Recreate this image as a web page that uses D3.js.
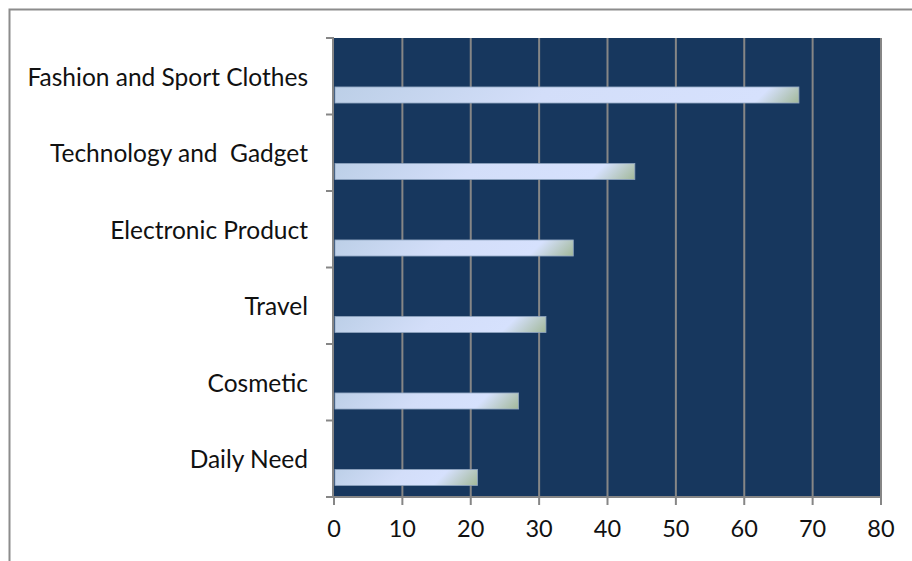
<!DOCTYPE html>
<html>
<head>
<meta charset="utf-8">
<script src="https://cdn.jsdelivr.net/npm/d3@7"></script>
<style>
  body { margin: 0; background: #fff; }
  svg { display: block; }
  text { font-family: Lato, "Open Sans", sans-serif; fill: #111; }
</style>
</head>
<body>
<svg id="svg"></svg>
<script>
var categories = ["Fashion and Sport Clothes", "Technology and  Gadget", "Electronic Product",
                  "Travel", "Cosmetic", "Daily Need"];
var values = [68, 44, 35, 31, 27, 21];
var ticks = [0, 10, 20, 30, 40, 50, 60, 70, 80];

var width = 912, height = 561;
var plot = {x1: 334, x2: 881, y1: 38, y2: 497};

var svg = d3.select("#svg").attr("width", width).attr("height", height);

// outer chart frame (clipped at right and bottom)
svg.append("path")
    .attr("d", "M9.5," + height + "V9.5H" + width)
    .attr("fill", "none").attr("stroke", "#8c8c8c").attr("stroke-width", 2);

var x = d3.scaleLinear().domain([0, 80]).range([plot.x1, plot.x2]);
var y = d3.scaleBand().domain(categories).range([plot.y1, plot.y2]);
var bh = y.bandwidth();
var barH = bh * 0.21;

svg.append("rect")
    .attr("x", plot.x1).attr("y", plot.y1)
    .attr("width", plot.x2 - plot.x1).attr("height", plot.y2 - plot.y1)
    .attr("fill", "#17375e");

// vertical gridlines
svg.append("g").selectAll("line")
    .data(ticks.slice(1))
    .enter().append("line")
    .attr("x1", function(d) { return x(d); }).attr("x2", function(d) { return x(d); })
    .attr("y1", plot.y1).attr("y2", plot.y2)
    .attr("stroke", "#868686").attr("stroke-width", 2);

// one diagonal gradient per bar, so the slant is the same on every bar
var defs = svg.append("defs");
values.forEach(function(v, i) {
    var x0 = x(0), top = y(categories[i]) + bh * 0.64;
    var w = x(v) - x0;
    var half = (w + barH) / 2;
    var g = defs.append("linearGradient").attr("id", "barGrad" + i)
        .attr("gradientUnits", "userSpaceOnUse")
        .attr("x1", x0).attr("y1", top)
        .attr("x2", x0 + half).attr("y2", top + half);
    var endFrac = 1 - 45 / (w + barH);
    g.append("stop").attr("offset", 0).attr("stop-color", "#bccfe7");
    g.append("stop").attr("offset", 0.45).attr("stop-color", "#d3def9");
    g.append("stop").attr("offset", Math.max(0.5, endFrac)).attr("stop-color", "#d6e1fd");
    g.append("stop").attr("offset", 1).attr("stop-color", "#a2b899");
});

// bars
svg.append("g").selectAll("rect")
    .data(values)
    .enter().append("rect")
    .attr("x", x(0) + 1)
    .attr("y", function(d, i) { return y(categories[i]) + bh * 0.64; })
    .attr("width", function(d) { return x(d) - x(0) - 1; })
    .attr("height", barH)
    .attr("fill", function(d, i) { return "url(#barGrad" + i + ")"; })
    .attr("stroke", "#8ea3bf").attr("stroke-width", 0.8);

// category labels
svg.append("g").selectAll("text")
    .data(categories)
    .enter().append("text")
    .attr("x", 308)
    .attr("y", function(d) { return y(d) + bh * 0.545; })
    .attr("text-anchor", "end")
    .attr("dominant-baseline", "middle")
    .attr("font-size", 24.5)
    .style("white-space", "pre")
    .text(function(d) { return d; });

// left axis
var yTicks = d3.range(categories.length + 1).map(function(i) { return plot.y1 + i * bh; });
svg.append("line").attr("x1", plot.x1 - 1).attr("x2", plot.x1 - 1)
    .attr("y1", plot.y1 - 1).attr("y2", plot.y2)
    .attr("stroke", "#868686").attr("stroke-width", 2);
svg.append("g").selectAll("line")
    .data(yTicks)
    .enter().append("line")
    .attr("x1", plot.x1 - 8).attr("x2", plot.x1 - 1)
    .attr("y1", function(d) { return d; }).attr("y2", function(d) { return d; })
    .attr("stroke", "#868686").attr("stroke-width", 2);

// bottom axis
svg.append("line").attr("x1", plot.x1 - 8).attr("x2", plot.x2 + 1)
    .attr("y1", plot.y2).attr("y2", plot.y2)
    .attr("stroke", "#868686").attr("stroke-width", 2);
svg.append("g").selectAll("line")
    .data(ticks)
    .enter().append("line")
    .attr("x1", function(d) { return x(d); }).attr("x2", function(d) { return x(d); })
    .attr("y1", plot.y2).attr("y2", plot.y2 + 8)
    .attr("stroke", "#868686").attr("stroke-width", 2);
svg.append("g").selectAll("text")
    .data(ticks)
    .enter().append("text")
    .attr("x", function(d) { return x(d); })
    .attr("y", 531)
    .attr("text-anchor", "middle")
    .attr("dominant-baseline", "middle")
    .attr("font-size", 23.5)
    .text(function(d) { return d; });
</script>
</body>
</html>
